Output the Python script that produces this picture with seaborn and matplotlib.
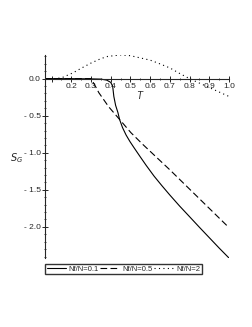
import numpy as np
import pandas as pd
import matplotlib
matplotlib.use("Agg")
import matplotlib.pyplot as plt
import seaborn as sns
from matplotlib.ticker import MultipleLocator, FuncFormatter

# ─────────────────────────────────────────
# Data
# ─────────────────────────────────────────
labels = ["Nf/N=0.1", "Nf/N=0.5", "Nf/N=2"]

t_01 = [0.067, 0.2, 0.3, 0.35, 0.38, 0.40, 0.41, 0.416, 0.425, 0.437, 0.445,
        0.46, 0.478, 0.498, 0.518, 0.55, 0.58, 0.62, 0.66, 0.7, 0.75, 0.794,
        0.85, 0.9, 0.95, 1.0]
s_01 = [0, 0, -0.003, -0.006, -0.02, -0.05, -0.10, -0.24, -0.36, -0.46, -0.55,
        -0.66, -0.76, -0.85, -0.93, -1.055, -1.17, -1.315, -1.445, -1.57,
        -1.72, -1.845, -2.005, -2.145, -2.285, -2.42]

t_05 = [0.067, 0.2, 0.3, 0.32, 0.34, 0.39, 0.445, 0.503, 0.564, 0.6, 0.7,
        0.8, 0.9, 1.0]
s_05 = [0, 0, 0, -0.09, -0.19, -0.38, -0.55, -0.73, -0.89, -0.98, -1.23,
        -1.49, -1.75, -2.01]

t_2 = [0.067, 0.11, 0.15, 0.21, 0.25, 0.30, 0.35, 0.385, 0.45, 0.5, 0.55,
       0.6, 0.64, 0.7, 0.75, 0.8, 0.85, 0.9, 0.95, 1.0]
s_2 = [0, 0, 0.01, 0.08, 0.14, 0.21, 0.27, 0.30, 0.32, 0.31, 0.28,
       0.25, 0.21, 0.145, 0.07, 0.0, -0.06, -0.12, -0.18, -0.24]

df = pd.concat([
    pd.DataFrame({"T": t_01, "S": s_01, "case": labels[0]}),
    pd.DataFrame({"T": t_05, "S": s_05, "case": labels[1]}),
    pd.DataFrame({"T": t_2, "S": s_2, "case": labels[2]}),
])

# ─────────────────────────────────────────
# Plot
# ─────────────────────────────────────────
sns.set_style("white")
plt.rcParams['font.family'] = ['Liberation Sans', 'DejaVu Sans']

fig = plt.figure(figsize=(2.53, 3.27), dpi=100)
ax = fig.add_axes([0.178, 0.211, 0.727, 0.621])

sns.lineplot(data=df, x="T", y="S", hue="case", style="case",
             palette=["black"] * 3,
             dashes={labels[0]: "", labels[1]: (6, 3), labels[2]: (1, 3)},
             linewidth=0.8, sort=False, estimator=None, ax=ax)

ax.set_xlim(0.067, 1.0)
ax.set_ylim(-2.42, 0.32)

for s in ["top", "right"]:
    ax.spines[s].set_visible(False)
ax.spines["bottom"].set_position(("data", 0))
ax.spines["left"].set_linewidth(0.8)
ax.spines["bottom"].set_linewidth(0.8)

ax.xaxis.set_major_locator(MultipleLocator(0.1))
ax.xaxis.set_minor_locator(MultipleLocator(0.05))
ax.yaxis.set_major_locator(MultipleLocator(0.5))
ax.yaxis.set_minor_locator(MultipleLocator(0.1))
ax.xaxis.set_major_formatter(FuncFormatter(lambda v, p: "" if v < 0.15 else f"{v:.1f}"))
ax.yaxis.set_major_formatter(FuncFormatter(
    lambda v, p: f"{v:.1f}" if v >= 0 else f"- {abs(v):.1f}"))
ax.tick_params(which="both", direction="inout", labelsize=6, pad=1,
               bottom=True, left=True)
ax.tick_params(which="major", length=4, width=0.7)
ax.tick_params(which="minor", length=2, width=0.6)

ax.set_xlabel("")
ax.set_ylabel("")
ax.text(0.544, -0.23, "T", style="italic", fontsize=7, ha="center", va="center")
ax.text(-0.076, -1.07, "$S_G$", fontsize=7, ha="center", va="center")

ax.legend(loc="upper left", bbox_to_anchor=(0.0, -0.03), ncol=3,
          fontsize=5.5, frameon=True, fancybox=False, edgecolor="black",
          handlelength=2.6, handletextpad=0.3, columnspacing=0.2,
          borderpad=0.2, borderaxespad=0.0)

plt.savefig("out.png", dpi=100)
